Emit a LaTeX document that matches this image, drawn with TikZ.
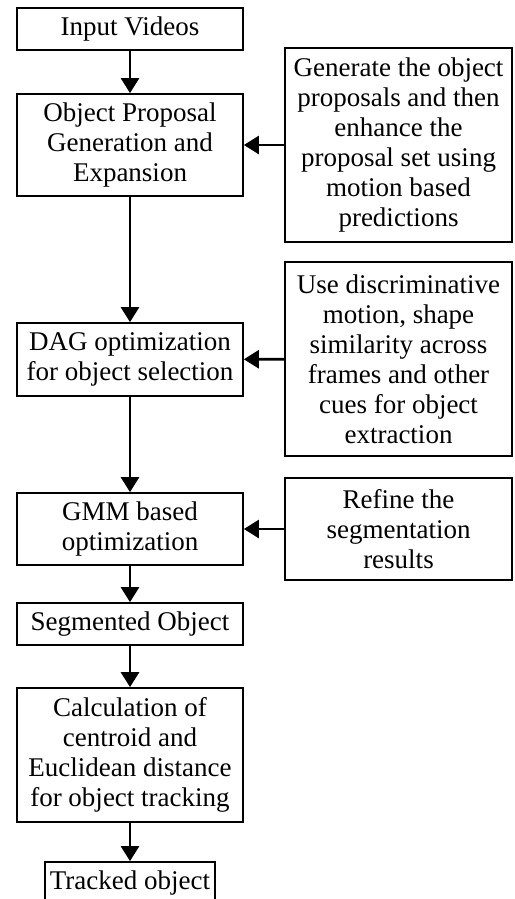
\documentclass[tikz,border=0pt]{standalone}
\usepackage{fontspec}
\setmainfont{Liberation Serif}
\usetikzlibrary{arrows.meta}

\begin{document}
\begin{tikzpicture}[x=0.5pt,y=-0.5pt,
  box/.style={draw,line width=0.85pt,align=center,inner sep=1pt,
    font=\fontsize{13.5}{15}\selectfont},
  stepbox/.style={box,minimum width=113pt},
  notebox/.style={box,minimum width=113.5pt},
  flow/.style={line width=1.3pt,-{Triangle[length=7.5pt,width=9pt]}}]
\useasboundingbox (0,0) rectangle (514,899);
% main column
\node[stepbox,minimum height=21pt] at (130,29) (input) {Input Videos};
\node[stepbox,minimum height=51pt] at (130,145) (proposal) {Object Proposal\\Generation and\\Expansion};
\node[stepbox,minimum height=36.5pt] at (130,359.5) (dag) {DAG optimization\\for object selection};
\node[stepbox,minimum height=36pt] at (130,529) (gmm) {GMM based\\optimization};
\node[stepbox,minimum height=21pt] at (130,624) (segmented) {Segmented Object};
\node[stepbox,minimum height=67pt] at (130,755) (calc) {Calculation of\\centroid and\\Euclidean distance\\for object tracking};
\node[box,minimum width=85pt,minimum height=21pt] at (130,883) (tracked) {Tracked object};
% side notes
\node[notebox,minimum height=97pt] at (398.5,145) (proposalnote) {Generate the object\\proposals and then\\enhance the\\proposal set using\\motion based\\predictions};
\node[notebox,minimum height=97pt] at (398.5,359) (dagnote) {Use discriminative\\motion, shape\\similarity across\\frames and other\\cues for object\\extraction};
\node[notebox,minimum height=51pt] at (398.5,529) (gmmnote) {Refine the\\segmentation\\results};
% arrows
\draw[flow] (input) -- (proposal);
\draw[flow] (proposal) -- (dag);
\draw[flow] (dag) -- (gmm);
\draw[flow] (gmm) -- (segmented);
\draw[flow] (segmented) -- (calc);
\draw[flow] (calc) -- (tracked);
\draw[flow] (proposalnote) -- (proposal);
\draw[flow] (dagnote) -- (dag);
\draw[flow] (gmmnote) -- (gmm);
\end{tikzpicture}
\end{document}
